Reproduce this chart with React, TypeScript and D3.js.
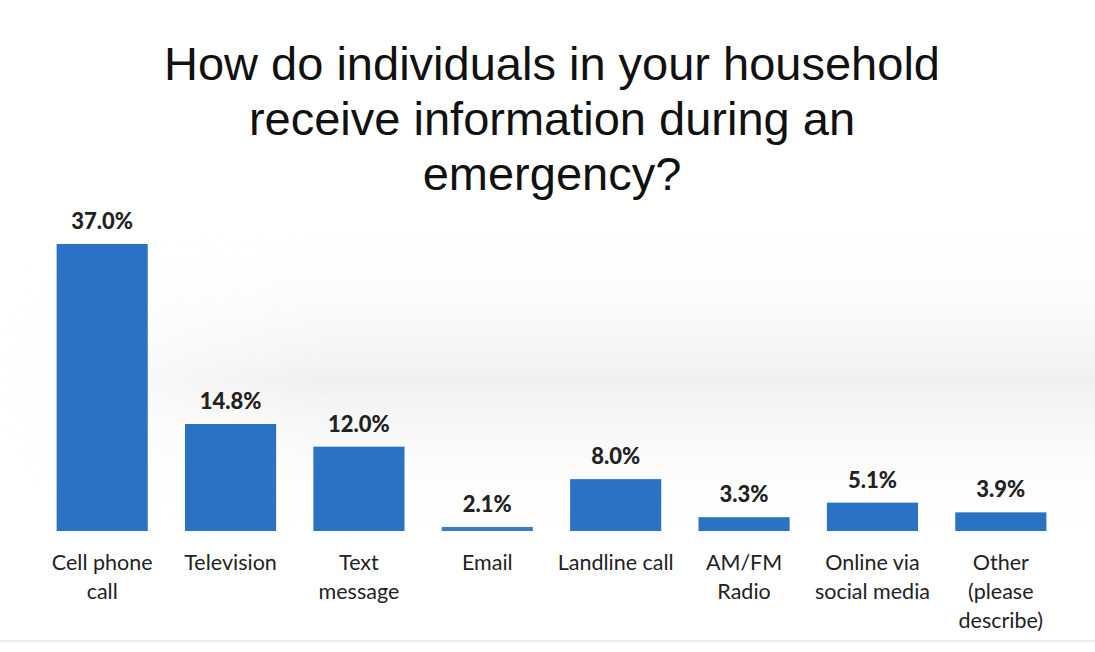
import React from "react";
import * as d3 from "d3";

const categories: string[][] = [
  ["Cell phone", "call"],
  ["Television"],
  ["Text", "message"],
  ["Email"],
  ["Landline call"],
  ["AM/FM", "Radio"],
  ["Online via", "social media"],
  ["Other", "(please", "describe)"],
];
const values: number[] = [37.0, 14.8, 12.0, 2.1, 8.0, 3.3, 5.1, 3.9];
const valueLabels: string[] = ["37.0%", "14.8%", "12.0%", "2.1%", "8.0%", "3.3%", "5.1%", "3.9%"];
const titleLines: string[] = [
  "How do individuals in your household",
  "receive information during an",
  "emergency?",
];

const W = 1095;
const H = 652;
const baseline = 531;

export default function App() {
  const keys = categories.map((c) => c.join(" "));
  const x = d3.scaleBand<string>().domain(keys).range([38, 1065]).paddingInner(0.29).paddingOuter(0.145);
  const y = d3.scaleLinear().domain([1.6, 37]).range([baseline, 244]);
  const labelFont = "Lato, 'Open Sans', 'Noto Sans', sans-serif";
  return (
    <svg width={W} height={H} style={{ position: "absolute", left: 0, top: 0, background: "#fff" }}>
      <defs>
        <linearGradient id="bgv" x1="0" y1="0" x2="0" y2="1">
          <stop offset="0" stopColor="#ffffff" stopOpacity={0} />
          <stop offset="0.5" stopColor="#e6e6e6" stopOpacity={0.6} />
          <stop offset="1" stopColor="#ffffff" stopOpacity={0} />
        </linearGradient>
        <linearGradient id="fadeH" x1="0" y1="0" x2="1" y2="0">
          <stop offset="0" stopColor="#fff" stopOpacity={0} />
          <stop offset="0.3" stopColor="#fff" stopOpacity={1} />
          <stop offset="1" stopColor="#fff" stopOpacity={1} />
        </linearGradient>
        <mask id="m">
          <rect x={0} y={200} width={W} height={360} fill="url(#fadeH)" />
        </mask>
      </defs>
      <rect x={0} y={0} width={W} height={H} fill="#fff" />
      <rect x={0} y={220} width={W} height={320} fill="url(#bgv)" mask="url(#m)" />
      <line x1={0} x2={W} y1={641} y2={641} stroke="#ddd" strokeWidth={1} />
      {titleLines.map((t, i) => (
        <text
          key={i}
          x={552}
          y={80 + i * 55}
          textAnchor="middle"
          fontFamily="'Liberation Sans', Arial, sans-serif"
          fontSize={47}
          fill="#111"
        >
          {t}
        </text>
      ))}
      {values.map((v, i) => {
        const k = keys[i];
        const bx = x(k)!;
        const bw = x.bandwidth();
        const top = y(v);
        return (
          <g key={k}>
            <rect x={bx} y={top} width={bw} height={baseline - top} fill={i === 3 ? "#3a7cc6" : "#2a72c4"} />
            <text
              x={bx + bw / 2}
              y={top - 15}
              textAnchor="middle"
              fontFamily={labelFont}
              fontWeight={900}
              fontSize={22}
              fill="#222"
            >
              {valueLabels[i]}
            </text>
            {categories[i].map((line, j) => (
              <text
                key={j}
                x={bx + bw / 2}
                y={570 + j * 29}
                textAnchor="middle"
                fontFamily={labelFont}
                fontSize={21.5}
                fill="#222"
              >
                {line}
              </text>
            ))}
          </g>
        );
      })}
    </svg>
  );
}
